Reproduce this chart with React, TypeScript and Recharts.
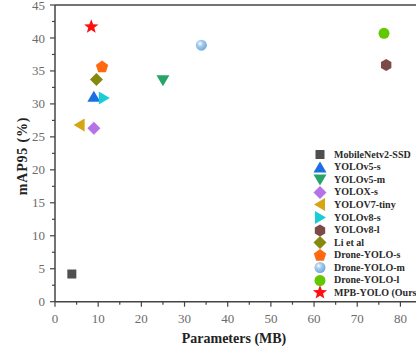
import React from 'react';
import { ReferenceLine, Scatter, ScatterChart, XAxis, YAxis } from 'recharts';

// values
const models = [
  'MobileNetv2-SSD',
  'YOLOv5-s',
  'YOLOv5-m',
  'YOLOX-s',
  'YOLOV7-tiny',
  'YOLOv8-s',
  'YOLOv8-l',
  'Li et al',
  'Drone-YOLO-s',
  'Drone-YOLO-m',
  'Drone-YOLO-l',
  'MPB-YOLO (Ours)',
];
const paramsMB = [3.9, 9.0, 25.0, 9.0, 5.7, 11.3, 76.7, 9.6, 10.9, 33.9, 76.2, 8.4];
const map95 = [4.2, 31.1, 33.6, 26.3, 26.8, 30.9, 35.9, 33.7, 35.6, 38.9, 40.7, 41.7];
const markers = [
  'square', 'triUp', 'triDown', 'diamond', 'triLeft', 'triRight',
  'hexagon', 'diamond', 'pentagon', 'sphere', 'circle', 'star',
];
const colors = [
  '#4f4f4f', '#1c6fe3', '#27a468', '#b673e8', '#d6a514', '#19ccd6',
  '#7b4a46', '#868a0c', '#ff6a10', '#6aa6dc', '#63c700', '#ff1010',
];

const xTicks = [0, 5, 10, 15, 20, 25, 30, 35, 40, 45, 50, 55, 60, 65, 70, 75, 80, 85];
const yTicks = [0, 2.5, 5, 7.5, 10, 12.5, 15, 17.5, 20, 22.5, 25, 27.5, 30, 32.5, 35, 37.5, 40, 42.5, 45];

const serif = '"Liberation Serif", "Times New Roman", serif';
const axisColor = '#444';

const poly = (cx: number, cy: number, r: number, n: number, rot: number) =>
  Array.from({ length: n }, (_, i) => {
    const a = rot + (i * 2 * Math.PI) / n;
    return `${cx + r * Math.cos(a)},${cy + r * Math.sin(a)}`;
  }).join(' ');

const starPts = (cx: number, cy: number, ro: number, ri: number) =>
  Array.from({ length: 10 }, (_, i) => {
    const r = i % 2 === 0 ? ro : ri;
    const a = -Math.PI / 2 + (i * Math.PI) / 5;
    return `${cx + r * Math.cos(a)},${cy + r * Math.sin(a)}`;
  }).join(' ');

const drawMarker = (kind: string, cx: number, cy: number, color: string, id: string) => {
  switch (kind) {
    case 'square':
      return <rect x={cx - 4.5} y={cy - 4.5} width={9} height={9} fill={color} />;
    case 'triUp':
      return <polygon points={`${cx},${cy - 6} ${cx - 6.5},${cy + 5} ${cx + 6.5},${cy + 5}`} fill={color} />;
    case 'triDown':
      return <polygon points={`${cx},${cy + 6} ${cx - 6.5},${cy - 5} ${cx + 6.5},${cy - 5}`} fill={color} />;
    case 'triLeft':
      return <polygon points={`${cx - 6},${cy} ${cx + 5},${cy - 6.5} ${cx + 5},${cy + 6.5}`} fill={color} />;
    case 'triRight':
      return <polygon points={`${cx + 6},${cy} ${cx - 5},${cy - 6.5} ${cx - 5},${cy + 6.5}`} fill={color} />;
    case 'diamond':
      return <polygon points={poly(cx, cy, 6.5, 4, 0)} fill={color} />;
    case 'hexagon':
      return <polygon points={poly(cx, cy, 6, 6, -Math.PI / 2)} fill={color} />;
    case 'pentagon':
      return <polygon points={poly(cx, cy, 6.5, 5, -Math.PI / 2)} fill={color} />;
    case 'sphere':
      return (
        <g>
          <defs>
            <radialGradient id={id} cx="0.38" cy="0.35" r="0.7">
              <stop offset="0%" stopColor="#ffffff" />
              <stop offset="35%" stopColor="#a9cdf0" />
              <stop offset="100%" stopColor={color} />
            </radialGradient>
          </defs>
          <circle cx={cx} cy={cy} r={5.5} fill={`url(#${id})`} />
        </g>
      );
    case 'star':
      return <polygon points={starPts(cx, cy, 7.5, 3.2)} fill={color} />;
    default:
      return <circle cx={cx} cy={cy} r={5.5} fill={color} />;
  }
};

const YTick = (props: any) => {
  const { x, y, payload } = props;
  const ax = x + 10;
  const major = payload.value % 5 === 0;
  return (
    <g>
      <line x1={ax - (major ? 5 : 3)} y1={y} x2={ax} y2={y} stroke={axisColor} strokeWidth={1.2} />
      {major && (
        <text x={x} y={y} dy="0.35em" textAnchor="end" fill="#6b6b6b" fontSize={13} fontFamily={serif}>
          {payload.value}
        </text>
      )}
    </g>
  );
};

const XTick = (props: any) => {
  const { x, y, payload } = props;
  const ay = y - 12;
  const major = payload.value % 10 === 0;
  return (
    <g>
      <line x1={x} y1={ay} x2={x} y2={ay + (major ? 5 : 3)} stroke={axisColor} strokeWidth={1.2} />
      {major && (
        <text x={x} y={y} dy="0.71em" textAnchor="middle" fill="#6b6b6b" fontSize={13} fontFamily={serif}>
          {payload.value}
        </text>
      )}
    </g>
  );
};

export default function App() {
  return (
    <div
      style={{
        position: 'absolute',
        left: 0,
        top: 0,
        width: 416,
        height: 348,
        overflow: 'hidden',
        background: '#fff',
      }}
    >
      <ScatterChart width={424} height={348} margin={{ top: 5, right: 2, bottom: 0, left: 0 }}>
        <XAxis
          type="number"
          dataKey="x"
          domain={[0, 85]}
          ticks={xTicks}
          interval={0}
          height={46.3}
          tickSize={5}
          tickMargin={7}
          tickLine={false}
          stroke={axisColor}
          strokeWidth={1.5}
          tick={<XTick />}
          label={{
            content: () => (
              <text x={234} y={343} textAnchor="middle" fontSize={14} fontWeight="bold" fill="#222" fontFamily={serif}>
                Parameters (MB)
              </text>
            ),
          }}
        />
        <YAxis
          type="number"
          dataKey="y"
          domain={[0, 45]}
          ticks={yTicks}
          interval={0}
          width={55}
          tickSize={5}
          tickMargin={5}
          tickLine={false}
          stroke={axisColor}
          strokeWidth={1.5}
          tick={<YTick />}
          label={{
            content: () => (
              <text
                x={27}
                y={156}
                transform="rotate(-90 27 156)"
                textAnchor="middle"
                fontSize={14}
                fontWeight="bold"
                letterSpacing={0.8}
                fill="#222"
                fontFamily={serif}
              >
                mAP95 (%)
              </text>
            ),
          }}
        />
        <ReferenceLine y={45} stroke={axisColor} strokeWidth={1.5} ifOverflow="extendDomain" />
        {models.map((name, i) => (
          <Scatter
            key={name}
            name={name}
            data={[{ x: paramsMB[i], y: map95[i] }]}
            isAnimationActive={false}
            shape={(p: any) => drawMarker(markers[i], p.cx, p.cy, colors[i], `sph-plot-${i}`)}
          />
        ))}
      </ScatterChart>
      <div style={{ position: 'absolute', left: 312, top: 148.5 }}>
        {models.map((name, i) => (
          <div key={name} style={{ display: 'flex', alignItems: 'center', height: 12.55 }}>
            <svg width={16} height={13} style={{ flex: 'none' }}>
              {drawMarker(markers[i], 8, 6.5, colors[i], `sph-leg-${i}`)}
            </svg>
            <span
              style={{
                marginLeft: 6,
                fontFamily: serif,
                fontWeight: 'bold',
                fontSize: 10,
                color: '#2a2a2a',
                whiteSpace: 'nowrap',
                lineHeight: '12px',
              }}
            >
              {name}
            </span>
          </div>
        ))}
      </div>
    </div>
  );
}
